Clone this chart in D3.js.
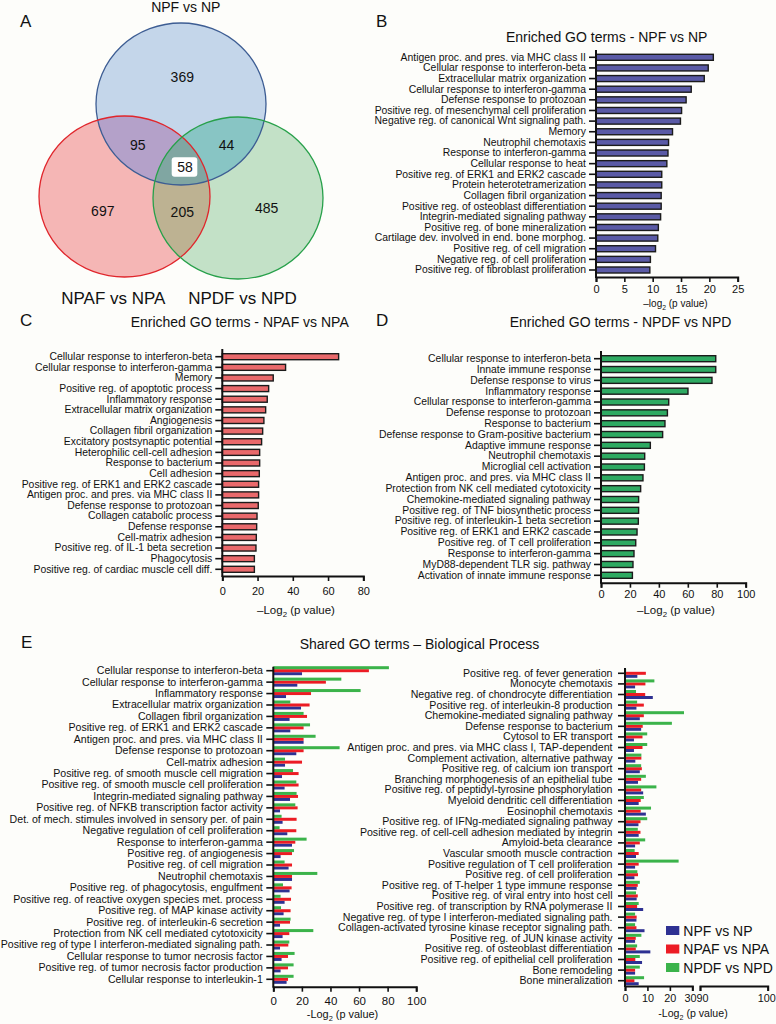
<!DOCTYPE html>
<html>
<head>
<meta charset="utf-8">
<script src="https://cdn.jsdelivr.net/npm/d3@7"></script>
<style>
  html, body { margin: 0; padding: 0; background: #fdfdfa; }
  svg { display: block; }
</style>
</head>
<body>
<svg id="chart"></svg>
<script>
// ---- data ----
const vennSets = ["NPF vs NP", "NPAF vs NPA", "NPDF vs NPD"];
const vennRegions = ["NPF", "NPAF", "NPDF", "NPF&NPAF", "NPF&NPDF", "NPAF&NPDF", "ALL"];
const vennCounts = [369, 697, 485, 95, 44, 205, 58];

const bTerms = [
  "Antigen proc. and pres. via MHC class II", "Cellular response to interferon-beta",
  "Extracellular matrix organization", "Cellular response to interferon-gamma",
  "Defense response to protozoan", "Positive reg. of mesenchymal cell proliferation",
  "Negative reg. of canonical Wnt signaling path.", "Memory", "Neutrophil chemotaxis",
  "Response to interferon-gamma", "Cellular response to heat", "Positive reg. of ERK1 and ERK2 cascade",
  "Protein heterotetramerization", "Collagen fibril organization", "Positive reg. of osteoblast differentiation",
  "Integrin-mediated signaling pathway", "Positive reg. of bone mineralization",
  "Cartilage dev. involved in end. bone morphog.", "Positive reg. of cell migration",
  "Negative reg. of cell proliferation", "Positive reg. of fibroblast proliferation"
];
const bValues = [20.7, 19.8, 19.1, 16.8, 15.9, 15.1, 14.9, 13.5, 12.8, 12.7, 12.5, 11.6, 11.6, 11.5, 11.5, 11.4, 11.0, 10.9, 10.5, 9.6, 9.5];

const cTerms = [
  "Cellular response to interferon-beta", "Cellular response to interferon-gamma", "Memory",
  "Positive reg. of apoptotic process", "Inflammatory response", "Extracellular matrix organization",
  "Angiogenesis", "Collagen fibril organization", "Excitatory postsynaptic potential",
  "Heterophilic cell-cell adhesion", "Response to bacterium", "Cell adhesion",
  "Positive reg. of ERK1 and ERK2 cascade", "Antigen proc. and pres. via MHC class II",
  "Defense response to protozoan", "Collagen catabolic process", "Defense response",
  "Cell-matrix adhesion", "Positive reg. of IL-1 beta secretion", "Phagocytosis",
  "Positive reg. of cardiac muscle cell diff."
];
const cValues = [66.0, 35.9, 28.9, 26.3, 25.5, 24.6, 23.6, 22.9, 22.3, 21.2, 21.2, 21.0, 20.6, 20.6, 20.4, 19.7, 19.5, 19.3, 19.1, 18.2, 18.2];

const dTerms = [
  "Cellular response to interferon-beta", "Innate immune response", "Defense response to virus",
  "Inflammatory response", "Cellular response to interferon-gamma", "Defense response to protozoan",
  "Response to bacterium", "Defense response to Gram-positive bacterium", "Adaptive immune response",
  "Neutrophil chemotaxis", "Microglial cell activation", "Antigen proc. and pres. via MHC class II",
  "Protection from NK cell mediated cytotoxicity", "Chemokine-mediated signaling pathway",
  "Positive reg. of TNF biosynthetic process", "Positive reg. of interleukin-1 beta secretion",
  "Positive reg. of ERK1 and ERK2 cascade", "Positive reg. of T cell proliferation",
  "Response to interferon-gamma", "MyD88-dependent TLR sig. pathway", "Activation of innate immune response"
];
const dValues = [79.3, 79.3, 76.7, 60.1, 46.8, 45.9, 44.2, 42.6, 34.1, 30.2, 30.0, 29.0, 27.4, 26.0, 26.0, 25.8, 24.9, 24.0, 22.8, 22.1, 21.7];

const seriesNames = ["NPF vs NP", "NPAF vs NPA", "NPDF vs NPD"];
const seriesColors = ["#2e3192", "#ec1c24", "#3bb34a"];

const eLeftTerms = [
  "Cellular response to interferon-beta", "Cellular response to interferon-gamma", "Inflammatory response",
  "Extracellular matrix organization", "Collagen fibril organization", "Positive reg. of ERK1 and ERK2 cascade",
  "Antigen proc. and pres. via MHC class II", "Defense response to protozoan", "Cell-matrix adhesion",
  "Positive reg. of smooth muscle cell migration", "Positive reg. of smooth muscle cell proliferation",
  "Integrin-mediated signaling pathway", "Positive reg. of NFKB transcription factor activity",
  "Det. of mech. stimules involved in sensory per. of pain", "Negative regulation of cell proliferation",
  "Response to interferon-gamma", "Positive reg. of angiogenesis", "Positive reg. of cell migration",
  "Neutrophil chemotaxis", "Positive reg. of phagocytosis, engulfment",
  "Positive reg. of reactive oxygen species met. process", "Positive reg. of MAP kinase activity",
  "Positive reg. of interleukin-6 secretion", "Protection from NK cell mediated cytotoxicity",
  "Positive reg of type I interferon-mediated signaling path.", "Cellular response to tumor necrosis factor",
  "Positive reg. of tumor necrosis factor production", "Cellular response to interleukin-1"
];
const eLeftNPF = [20.1, 16.8, 8.9, 19.4, 11.4, 11.9, 21.2, 16.1, 8.2, 6.1, 7.9, 11.7, 4.7, 6.5, 9.8, 13.1, 5.1, 10.7, 13.1, 11.4, 7.9, 7.2, 4.7, 6.5, 4.7, 5.8, 5.1, 9.3];
const eLeftNPAF = [66.9, 36.8, 26.4, 25.4, 23.6, 21.2, 21.2, 21.2, 20.1, 17.7, 17.7, 17.3, 17.0, 16.3, 16.1, 15.4, 13.1, 13.1, 13.1, 12.8, 12.4, 12.1, 11.7, 11.2, 10.5, 10.3, 10.3, 10.3];
const eLeftNPDF = [80.9, 47.6, 61.1, 11.9, 21.2, 25.7, 29.6, 46.4, 8.2, 13.8, 16.1, 16.3, 15.4, 5.8, 4.4, 23.3, 14.5, 7.9, 30.8, 6.8, 5.1, 5.4, 12.1, 28.0, 11.2, 14.9, 14.2, 14.2];

const eRightTerms = [
  "Positive reg. of fever generation", "Monocyte chemotaxis", "Negative reg. of chondrocyte differentiation",
  "Positive reg. of interleukin-8 production", "Chemokine-mediated signaling pathway",
  "Defense response to bacterium", "Cytosol to ER transport",
  "Antigen proc. and pres. via MHC class I, TAP-dependent", "Complement activation, alternative pathway",
  "Positive reg. of calcium ion transport", "Branching morphogenesis of an epithelial tube",
  "Positive reg. of peptidyl-tyrosine phosphorylation", "Myeloid dendritic cell differentiation",
  "Eosinophil chemotaxis", "Positive reg. of IFNg-mediated signaling pathway",
  "Positive reg. of cell-cell adhesion mediated by integrin", "Amyloid-beta clearance",
  "Vascular smooth muscle contraction", "Positive regulation of T cell proliferation",
  "Positive reg. of cell proliferation", "Positive reg. of T-helper 1 type immune response",
  "Positive reg. of viral entry into host cell", "Positive reg. of transcription by RNA polymerase II",
  "Negative reg. of type I interferon-mediated signaling path.",
  "Collagen-activated tyrosine kinase receptor signaling path.", "Positive reg. of JUN kinase activity",
  "Positive reg. of osteoblast differentiation", "Positive reg. of epithelial cell proliferation",
  "Bone remodeling", "Bone mineralization"
];
const eRightNPF = [5.5, 4.5, 12.4, 5.1, 6.6, 7.2, 4.0, 4.0, 4.6, 6.6, 5.8, 8.1, 6.1, 9.3, 6.0, 6.1, 4.5, 4.9, 4.5, 4.2, 5.2, 5.2, 8.1, 5.1, 8.7, 4.5, 11.3, 7.6, 4.5, 6.1];
const eRightNPAF = [9.3, 9.1, 9.0, 8.4, 8.4, 7.9, 7.8, 7.8, 7.3, 7.5, 7.2, 7.2, 7.0, 7.0, 6.9, 6.9, 6.6, 6.1, 6.1, 5.8, 5.7, 5.7, 5.4, 5.2, 5.1, 4.8, 4.8, 4.6, 4.5, 4.2];
const eRightNPDF = [0.5, 13.1, 4.9, 5.4, 26.3, 20.9, 9.9, 9.9, 7.3, 7.2, 9.3, 14.0, 8.4, 11.6, 9.9, 5.7, 9.0, 4.3, 23.9, 5.5, 6.6, 4.9, 6.1, 4.5, 4.5, 7.3, 5.4, 6.6, 6.6, 8.5];

// ---- drawing ----
const FONT = "'Liberation Sans', Arial, Helvetica, sans-serif";
const INK = "#111";
const width = 776, height = 1024;

const svg = d3.select("#chart")
  .attr("width", width).attr("height", height)
  .attr("font-family", FONT);

const text = (g, x, y, str, size, anchor = "middle") =>
  g.append("text").attr("x", x).attr("y", y).attr("font-size", size)
    .attr("text-anchor", anchor).attr("fill", INK).text(str);

// "-Log2 (p value)" with a subscript 2
const logLabel = (g, x, y, prefix, size) => {
  const t = g.append("text").attr("x", x).attr("y", y).attr("font-size", size)
    .attr("text-anchor", "middle").attr("fill", INK);
  t.append("tspan").text(prefix);
  t.append("tspan").text("2").attr("font-size", size * 0.68).attr("dy", 3);
  t.append("tspan").text(" (p value)").attr("dy", -3);
};

const styleX = (ax, labelY, size) => {
  ax.attr("font-family", FONT).attr("font-size", size);
  ax.select(".domain").attr("stroke", INK).attr("stroke-width", 2);
  ax.selectAll(".tick line").attr("stroke", INK).attr("stroke-width", 1.6);
  ax.selectAll(".tick text").attr("y", labelY).attr("dy", 0).attr("fill", INK);
};

const styleY = (ax, size) => {
  ax.attr("font-family", FONT).attr("font-size", size);
  ax.select(".domain").remove();
  ax.selectAll(".tick line").attr("stroke", INK).attr("stroke-width", 1.6);
  ax.selectAll(".tick text").attr("fill", INK);
};

// panel letters
const letters = svg.append("g");
text(letters, 20, 27, "A", 17, "start");
text(letters, 376, 27, "B", 17, "start");
text(letters, 20, 326, "C", 17, "start");
text(letters, 376, 326, "D", 17, "start");
text(letters, 21, 648, "E", 17, "start");

// ---- Venn (A) ----
const vennShapes = [
  { id: "npf", cx: 181, cy: 104, rx: 85, ry: 81, fill: "#c4d6ea", stroke: "#3d5d93" },
  { id: "npaf", cx: 124.5, cy: 196.5, rx: 85.5, ry: 80.5, fill: "#f5b6b5", stroke: "#e0262c" },
  { id: "npdf", cx: 238, cy: 198, rx: 85, ry: 81, fill: "#c3e1c7", stroke: "#27a04a" }
];
const venn = svg.append("g");
const defs = svg.append("defs");
vennShapes.forEach(s => {
  defs.append("clipPath").attr("id", "clip-" + s.id)
    .append("ellipse").attr("cx", s.cx).attr("cy", s.cy).attr("rx", s.rx).attr("ry", s.ry);
});
const ell = (g, s) => g.append("ellipse").attr("cx", s.cx).attr("cy", s.cy).attr("rx", s.rx).attr("ry", s.ry);
vennShapes.forEach(s => ell(venn, s).attr("fill", s.fill));
const [vB, vR, vG] = vennShapes;
ell(venn, vB).attr("fill", "#b4a1c9").attr("clip-path", "url(#clip-npaf)");
ell(venn, vB).attr("fill", "#88c5c4").attr("clip-path", "url(#clip-npdf)");
ell(venn, vR).attr("fill", "#bdb292").attr("clip-path", "url(#clip-npdf)");
ell(venn.append("g").attr("clip-path", "url(#clip-npaf)"), vB)
  .attr("fill", "#80a6a2").attr("clip-path", "url(#clip-npdf)");
vennShapes.forEach(s => ell(venn, s).attr("fill", "none").attr("stroke", s.stroke).attr("stroke-width", 1.3));

const vennLabelPos = {
  "NPF": [182.3, 81.5], "NPAF": [102.8, 216], "NPDF": [266.7, 212.7],
  "NPF&NPAF": [137.8, 150], "NPF&NPDF": [226.5, 150], "NPAF&NPDF": [182.3, 217.3], "ALL": [185, 172.3]
};
venn.append("rect").attr("x", 171.7).attr("y", 157.3).attr("width", 25.6).attr("height", 19.4)
  .attr("rx", 3).attr("fill", "#fff");
vennRegions.forEach((r, i) => text(venn, vennLabelPos[r][0], vennLabelPos[r][1], vennCounts[i], 14));
text(venn, 185.8, 11.7, vennSets[0], 14);
text(venn, 113.3, 303.5, vennSets[1], 17);
text(venn, 242.5, 303.5, vennSets[2], 17);

// ---- single-series bar panels (B, C, D) ----
function barPanel(p) {
  const g = svg.append("g");
  const x = d3.scaleLinear().domain([0, p.max]).range([p.x0, p.x1]);
  const step = (p.lastY - p.firstY) / (p.terms.length - 1);
  const y = d3.scaleBand().domain(p.terms).range([p.firstY - step / 2, p.lastY + step / 2]);

  g.selectAll("rect.bar").data(p.terms).join("rect").attr("class", "bar")
    .attr("x", x(0))
    .attr("y", d => y(d) + y.bandwidth() / 2 - 3)
    .attr("width", (d, i) => x(p.values[i]) - x(0))
    .attr("height", 6)
    .attr("fill", p.fill).attr("stroke", "#1b1b1b").attr("stroke-width", 1.4);

  const ya = g.append("g").attr("transform", `translate(${x(0)},0)`)
    .call(d3.axisLeft(y).tickSize(7).tickPadding(3).tickSizeOuter(0));
  styleY(ya, 10.4);
  g.append("line").attr("x1", x(0)).attr("x2", x(0)).attr("y1", p.axisTop).attr("y2", p.axisY + 1)
    .attr("stroke", INK).attr("stroke-width", 2);

  const xa = g.append("g").attr("transform", `translate(0,${p.axisY})`)
    .call(d3.axisBottom(x).tickValues(d3.range(0, p.max + 1, p.step)).tickSize(5).tickSizeOuter(5));
  styleX(xa, p.tickBase - p.axisY, 11);

  text(g, p.titleX, p.titleY, p.title, 14);
  logLabel(g, p.labelX, p.labelY, p.labelPrefix, p.labelSize);
}

barPanel({
  terms: bTerms, values: bValues, fill: "#5a5aa6",
  x0: 596, x1: 737.7, max: 25, step: 5,
  firstY: 57.3, lastY: 270, axisTop: 50, axisY: 277, tickBase: 293,
  title: "Enriched GO terms - NPF vs NP", titleX: 606.7, titleY: 41.5,
  labelPrefix: "\u2013log", labelX: 675.5, labelY: 307, labelSize: 10
});
barPanel({
  terms: cTerms, values: cValues, fill: "#e9696b",
  x0: 222.3, x1: 363.3, max: 80, step: 20,
  firstY: 356.7, lastY: 569.3, axisTop: 349, axisY: 576, tickBase: 595,
  title: "Enriched GO terms - NPAF vs NPA", titleX: 239.7, titleY: 327,
  labelPrefix: "\u2013Log", labelX: 296, labelY: 614, labelSize: 11.5
});
barPanel({
  terms: dTerms, values: dValues, fill: "#2eaa62",
  x0: 601, x1: 745.7, max: 100, step: 20,
  firstY: 358.7, lastY: 575.3, axisTop: 351, axisY: 582.7, tickBase: 598,
  title: "Enriched GO terms - NPDF vs NPD", titleX: 620.5, titleY: 327,
  labelPrefix: "\u2013Log", labelX: 676, labelY: 614, labelSize: 11.5
});

// ---- shared GO terms (E) ----
text(svg, 419.5, 649, "Shared GO terms \u2013 Biological Process", 14);

function groupedPanel(p) {
  const g = svg.append("g");
  const rows = p.terms.map((t, i) => ({ term: t, vals: [p.npf[i], p.npaf[i], p.npdf[i]] }));
  const step = (p.lastY - p.firstY) / (p.terms.length - 1);
  const y = d3.scaleBand().domain(p.terms).range([p.firstY - step / 2, p.lastY + step / 2]);
  // green on top, then red, blue at bottom
  const ys = d3.scaleBand().domain([2, 1, 0]).range([-4.5, 4.5]);
  const x = p.x;

  g.selectAll("g.grp").data(rows).join("g").attr("class", "grp")
    .attr("transform", d => `translate(0,${y(d.term) + y.bandwidth() / 2})`)
    .selectAll("rect").data(d => d.vals.map((v, k) => ({ v, k }))).join("rect")
    .attr("x", x(0)).attr("y", d => ys(d.k)).attr("height", ys.bandwidth())
    .attr("width", d => x(d.v) - x(0))
    .attr("fill", d => seriesColors[d.k]);

  const ya = g.append("g").attr("transform", `translate(${x(0)},0)`)
    .call(d3.axisLeft(y).tickSize(7).tickPadding(p.pad).tickSizeOuter(0));
  styleY(ya, 10.6);
  g.append("line").attr("x1", x(0)).attr("x2", x(0)).attr("y1", p.axisTop).attr("y2", p.axisY + 1)
    .attr("stroke", INK).attr("stroke-width", 2);
  return g;
}

const xLeft = d3.scaleLinear().domain([0, 100]).range([273.3, 416.2]);
const gLeft = groupedPanel({
  terms: eLeftTerms, npf: eLeftNPF, npaf: eLeftNPAF, npdf: eLeftNPDF, x: xLeft,
  firstY: 670.7, lastY: 979.3, axisTop: 666.7, axisY: 986.7, pad: 3.5
});
const xaL = gLeft.append("g").attr("transform", "translate(0,986.7)")
  .call(d3.axisBottom(xLeft).tickValues(d3.range(0, 101, 20)).tickSize(5).tickSizeOuter(5));
styleX(xaL, 1005 - 986.7, 11.5);
logLabel(gLeft, 342.5, 1018, "-Log", 10.9);

// right chart: broken axis 0-30 | 90-100
const xRight = d3.scaleLinear().domain([0, 30]).range([625, 692.3]);
const xRight2 = d3.scaleLinear().domain([90, 100]).range([700, 767.7]);
const gRight = groupedPanel({
  terms: eRightTerms, npf: eRightNPF, npaf: eRightNPAF, npdf: eRightNPDF, x: xRight,
  firstY: 673.3, lastY: 980.7, axisTop: 668, axisY: 986, pad: 5.5
});
const xaR1 = gRight.append("g").attr("transform", "translate(0,986)")
  .call(d3.axisBottom(xRight).tickValues([0, 10, 20, 30]).tickSize(5).tickSizeOuter(5));
styleX(xaR1, 1002 - 986, 10.8);
xaR1.selectAll(".tick text").filter(d => d === 30).attr("text-anchor", "end").attr("dx", 3.7);
const xaR2 = gRight.append("g").attr("transform", "translate(0,986)")
  .call(d3.axisBottom(xRight2).tickValues([90, 100]).tickSize(5).tickSizeOuter(5));
styleX(xaR2, 1002 - 986, 10.8);
xaR2.selectAll(".tick text").filter(d => d === 90).attr("text-anchor", "start").attr("dx", -4);
xaR2.selectAll(".tick text").filter(d => d === 100).attr("text-anchor", "end").attr("dx", 7.5);
logLabel(gRight, 693, 1017, "-Log", 10.6);

// legend
const legend = svg.append("g").attr("transform", "translate(666,926)");
seriesNames.forEach((name, i) => {
  const row = legend.append("g").attr("transform", `translate(0,${i * 18.5})`);
  row.append("rect").attr("width", 13.3).attr("height", 9).attr("fill", seriesColors[i]);
  text(row, 17.3, 9.5, name, 14, "start");
});
</script>
</body>
</html>
